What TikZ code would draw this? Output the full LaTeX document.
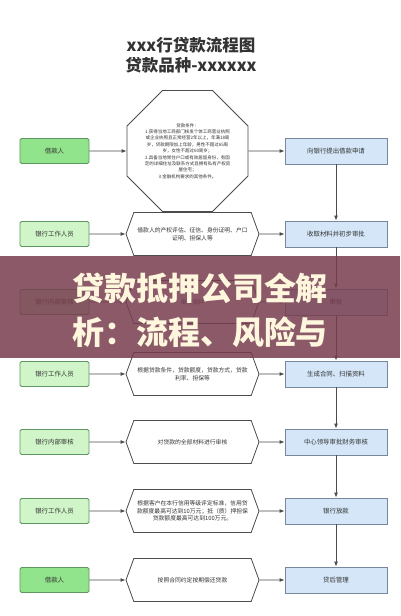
\documentclass[tikz,border=0pt]{standalone}
\usepackage{fontspec}
\setmainfont{Noto Sans CJK SC}
\usepackage{tikz}
\usetikzlibrary{arrows.meta,shapes.geometric,shapes.symbols}

\definecolor{lightgreen}{RGB}{208,245,200}
\definecolor{darkgreen}{RGB}{146,228,140}
\definecolor{greenline}{RGB}{96,150,96}
\definecolor{lightblue}{RGB}{212,230,248}
\definecolor{blueline}{RGB}{120,136,156}
\definecolor{banner}{RGB}{119,61,78}
\definecolor{cream}{RGB}{255,246,222}

\begin{document}
\begin{tikzpicture}[x=1pt,y=-1pt]
							\tikzstyle{person}=[rectangle,rounded corners=1.5pt,draw=greenline,fill=lightgreen,line width=0.8pt,minimum width=69pt,minimum height=25pt,inner sep=0pt,font=\fontsize{6.4}{7.7}\selectfont,text=black!80]
							\tikzstyle{task}=[rectangle,draw=blueline,fill=lightblue,line width=0.8pt,minimum width=102pt,minimum height=26pt,inner sep=0pt,font=\fontsize{6.4}{7.7}\selectfont,text=black!80]
							\tikzstyle{note}=[signal,signal to=west and east,signal pointer angle=140,draw=black!70,fill=white,line width=0.8pt,minimum width=133pt,minimum height=43pt,inner sep=0pt,align=center,font=\fontsize{5.8}{7.7}\selectfont,text=black!80]
							\tikzstyle{cond}=[regular polygon,regular polygon sides=8,draw=black!70,fill=white,line width=0.8pt,minimum size=122pt,inner sep=0pt,align=center,font=\fontsize{4.5}{6.4}\selectfont,text=black!80]
							\tikzstyle{flow}=[draw=black!70,line width=0.9pt,-{Latex[length=5pt,width=4pt]}]
							\useasboundingbox (0,0) rectangle (400,616);
							\fill[white] (0,0) rectangle (400,616);
							% title
							\node[font=\fontsize{16.5}{20}\bfseries,text=black!80] (t1) at (191,45) {xxx行贷款流程图};
							\node[font=\fontsize{16.5}{20}\bfseries,text=black!80] (t2) at (191,65) {贷款品种-xxxxxx};
							% left column
							\node[person,fill=darkgreen] (l1) at (54.5,151) {借款人};
							\node[person] (l2) at (54.5,234) {银行工作人员};
							\node[person] (l3) at (54.5,302) {银行内部审核};
							\node[person] (l4) at (54.5,374) {银行工作人员};
							\node[person] (l5) at (54.5,442) {银行内部审核};
							\node[person] (l6) at (54.5,511) {银行工作人员};
							\node[person,fill=darkgreen] (l7) at (54.5,580) {借款人};
							% middle column
							\node[cond] (m1) at (187.5,151) {贷款条件：\\1.获得当地工商部门核发个体工商营业执照\\或企业执照且正常经营2年以上，年满18周\\岁，贷款期限加上年龄，男性不超过65周\\岁，女性不超过60周岁；\\2.具备当地常住户口或有效居留身份，有固\\定的详细住址及联系方式且拥有私有产权房\\屋住宅；\\3.金融机构要求的其他条件。};
							\node[note] (m2) at (192.5,234) {借款人的产权评估、征信、身份证明、户口\\证明、担保人等};
							\node[note] (m3) at (192.5,302) {审核资料};
							\node[note] (m4) at (192.5,374) {根据贷款条件，贷款额度，贷款方式，贷款\\利率、担保等};
							\node[note] (m5) at (192.5,442) {对贷款的全部材料进行审核};
							\node[note] (m6) at (192.5,511) {根据客户在本行信用等级评定标准，信用贷\\款额度最高可达到10万元；抵（质）押担保\\贷款额度最高可达到100万元。};
							\node[note] (m7) at (192.5,580) {按照合同约定按期偿还贷款};
							% right column
							\node[task] (r1) at (336,151) {向银行提出借款申请};
							\node[task] (r2) at (336,234) {收取材料并初步审批};
							\node[task] (r3) at (336,302) {审批};
							\node[task] (r4) at (336,374) {生成合同、扫描资料};
							\node[task] (r5) at (336,442) {中心领导审批财务审核};
							\node[task] (r6) at (336,511) {银行放款};
							\node[task] (r7) at (336,580) {贷后管理};
							% arrows
							\foreach \i in {1,...,7} {
								\draw[flow] (l\i) -- (m\i);
								\draw[flow] (m\i) -- (r\i);
							}
							\draw[flow] (r1) -- (r2);
							\draw[flow] (r2) -- (r3);
							\draw[flow] (r3) -- (r4);
							\draw[flow] (r4) -- (r5);
							\draw[flow] (r5) -- (r6);
							\draw[flow] (r6) -- (r7);
							% banner on top
							\fill[banner,opacity=0.85] (0,256) rectangle (400,358);
							\node[font=\fontsize{32}{36}\bfseries,text=cream] (b1) at (200,288) {贷款抵押公司全解};
							\node[font=\fontsize{32}{36}\bfseries,text=cream] (b2) at (200,332) {析：流程、风险与};
							\end{tikzpicture}
\end{document}
